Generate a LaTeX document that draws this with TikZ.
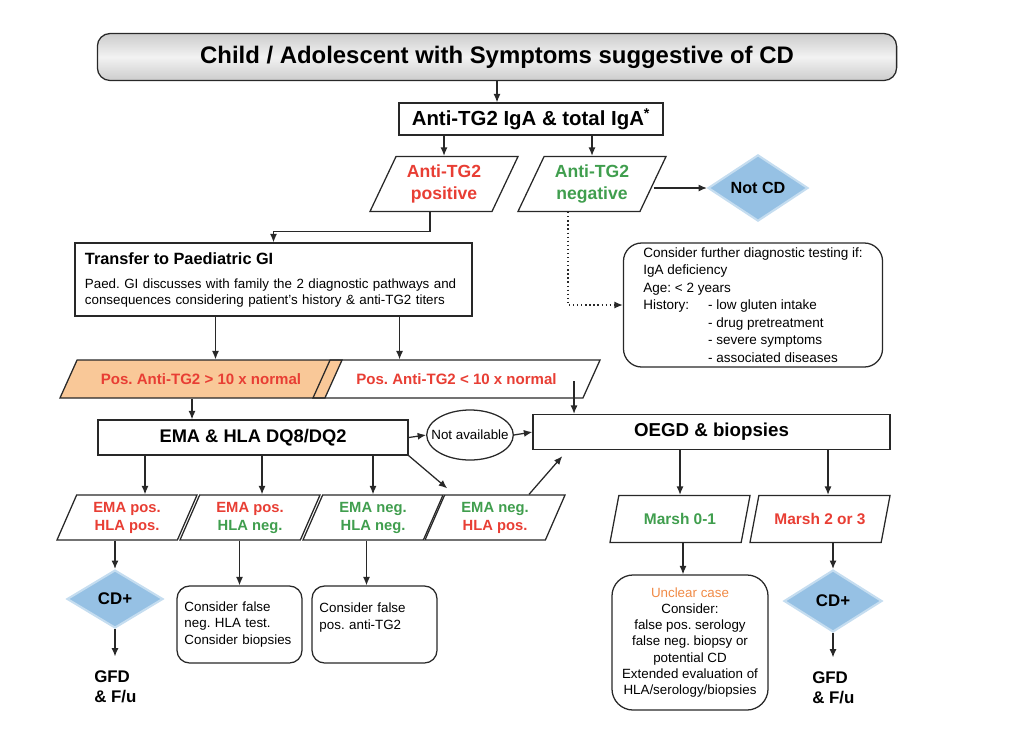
\documentclass[tikz,border=0pt]{standalone}
\usepackage{fontspec}
\setmainfont{Liberation Sans}
\usetikzlibrary{shapes.geometric,arrows.meta,calc}
\frenchspacing

\definecolor{txtred}{RGB}{232,62,52}
\definecolor{txtgreen}{RGB}{64,158,78}
\definecolor{txtorange}{RGB}{240,138,70}
\definecolor{orangefill}{RGB}{249,200,152}
\definecolor{diamblue}{RGB}{150,193,228}
\definecolor{edge}{RGB}{40,40,40}

\begin{document}
\begin{tikzpicture}[x=0.025cm, y=-0.025cm,
    box/.style={draw=edge, line width=0.9pt, inner sep=2pt},
    rbox/.style={box, rounded corners=9pt},
    para/.style={draw=edge, line width=0.9pt, trapezium, trapezium stretches body=true,
      inner xsep=-2pt, inner ysep=1pt, align=center},
    rowp/.style={para, minimum width=3.5cm, minimum height=1.125cm,
      trapezium left angle=60, trapezium right angle=120, font=\bfseries\fontsize{10.5}{12.8}\selectfont},
    titer/.style={para, minimum height=0.95cm, inner xsep=-0.45cm, trapezium left angle=39,
      trapezium right angle=141, text=txtred, font=\bfseries\fontsize{10.7}{12}\selectfont},
    decide/.style={diamond, fill=diamblue, draw=diamblue!55, line width=1.5pt, inner sep=0pt,
      font=\bfseries\fontsize{12}{14}\selectfont},
    arr/.style={-{Latex[length=6pt,width=5pt]}, line width=0.9pt, draw=edge},
  ]
  \useasboundingbox (0,0) rectangle (1024,739);

  % start and first test
  \node[rbox, top color=black!20, bottom color=black!20, middle color=black!5,
    minimum width=19.975cm, minimum height=1.175cm,
    font=\bfseries\fontsize{17}{20}\selectfont] (top) at (497,57)
    {Child / Adolescent with Symptoms suggestive of CD};
  \node[box, minimum width=6.6cm, minimum height=0.8cm,
    font=\bfseries\fontsize{14.5}{17}\selectfont] (iga) at (531,119)
    {Anti-TG2 IgA \& total IgA\textsuperscript{*}};

  % serology result
  \node[para, minimum width=3.7cm, minimum height=1.375cm, trapezium left angle=58,
    trapezium right angle=122, text=txtred, font=\bfseries\fontsize{12.5}{16}\selectfont]
    (pos) at (444,184) {Anti-TG2\\positive};
  \node[para, minimum width=3.7cm, minimum height=1.375cm, trapezium left angle=58,
    trapezium right angle=122, text=txtgreen, font=\bfseries\fontsize{12.5}{16}\selectfont]
    (neg) at (592,184) {Anti-TG2\\negative};
  \node[decide, minimum width=2.5cm, minimum height=1.4cm,
    font=\bfseries\fontsize{11.5}{13}\selectfont] (notcd) at (758,188) {Not CD};

  % paediatric GI and further testing
  \node[box, minimum width=9.925cm, minimum height=1.825cm, inner xsep=0.25cm,
    text width=9.425cm, align=left, font=\fontsize{9.5}{10.7}\selectfont] (transfer) at (273.5,279.5)
    {{\bfseries\fontsize{11.6}{12}\selectfont Transfer to Paediatric GI}\\[7pt]
     Paed. GI discusses with family the 2 diagnostic pathways and\\
     consequences considering patient's history \& anti-TG2 titers};
  \node[rbox, rounded corners=13pt, minimum width=6.475cm, minimum height=3.1cm,
    align=left, font=\fontsize{9.6}{12.4}\selectfont] (consider) at (753,305)
    {Consider further diagnostic testing if:\\
     IgA deficiency\\
     Age: < 2 years\\
     \makebox[46pt][l]{History:}- low gluten intake\\
     \hspace*{46pt}- drug pretreatment\\
     \hspace*{46pt}- severe symptoms\\
     \hspace*{46pt}- associated diseases};

  % titer split
  \node[titer, fill=orangefill, minimum width=7.05cm] (high) at (201,379)
    {Pos. Anti-TG2 > 10 x normal};
  \node[titer, minimum width=7.175cm] (low) at (456.5,379)
    {Pos. Anti-TG2 < 10 x normal};

  % EMA/HLA and endoscopy
  \node[box, minimum width=7.75cm, minimum height=0.875cm,
    font=\bfseries\fontsize{13}{15}\selectfont] (ema) at (253,437.5) {EMA \& HLA DQ8/DQ2};
  \node[ellipse, draw=edge, line width=0.9pt, minimum width=2.1cm, minimum height=1.25cm,
    inner xsep=-0.2cm, inner ysep=0pt, font=\fontsize{9.5}{11}\selectfont] (na) at (470,435)
    {Not available};
  \node[box, minimum width=8.925cm, minimum height=0.875cm,
    font=\bfseries\fontsize{13.3}{15}\selectfont] (oegd) at (711.5,432) {OEGD \& biopsies};

  % EMA/HLA results
  \node[rowp] (p1) at (127,517.5) {\textcolor{txtred}{EMA pos.}\\\textcolor{txtred}{HLA pos.}};
  \node[rowp] (p2) at (250,517.5) {\textcolor{txtred}{EMA pos.}\\\textcolor{txtgreen}{HLA neg.}};
  \node[rowp] (p3) at (373,517.5) {\textcolor{txtgreen}{EMA neg.}\\\textcolor{txtgreen}{HLA neg.}};
  \node[rowp] (p4) at (495,517.5) {\textcolor{txtgreen}{EMA neg.}\\\textcolor{txtred}{HLA pos.}};

  % histology results
  \node[para, minimum width=3.5cm, minimum height=1.175cm, trapezium left angle=58,
    trapezium right angle=122, text=txtgreen, font=\bfseries\fontsize{11}{13}\selectfont]
    (marsh01) at (680,519) {Marsh 0-1};
  \node[para, minimum width=3.5cm, minimum height=1.175cm, trapezium left angle=58,
    trapezium right angle=122, text=txtred, font=\bfseries\fontsize{11}{13}\selectfont]
    (marsh23) at (820,519) {Marsh 2 or 3};

  % outcomes
  \node[decide, minimum width=2.4cm, minimum height=1.45cm] (cd1) at (115,599) {CD+};
  \node[align=left, anchor=west, inner xsep=0pt, inner ysep=0.35cm,
    font=\bfseries\fontsize{12}{14.5}\selectfont] (gfd1) at (94,687) {GFD\\\& F/u};
  \node[rbox, minimum width=3.125cm, minimum height=1.925cm, inner xsep=0.1875cm,
    text width=2.75cm, align=left, font=\fontsize{9.5}{12}\selectfont] (box2) at (239.5,624.5)
    {Consider false\\neg. HLA test.\\Consider biopsies};
  \node[rbox, minimum width=3.125cm, minimum height=1.925cm, inner xsep=0.1875cm,
    text width=2.75cm, align=left, font=\fontsize{9.5}{12}\selectfont] (box3) at (374.5,624.5)
    {Consider false\\pos. anti-TG2\\\mbox{}};
  \node[rbox, rounded corners=15pt, minimum width=3.9cm, minimum height=3.375cm,
    align=center, font=\fontsize{9.5}{11.4}\selectfont] (unclear) at (690,642.5)
    {\textcolor{txtorange}{Unclear case}\\Consider:\\false pos. serology\\false neg. biopsy or\\
     potential CD\\Extended evaluation of\\HLA/serology/biopsies};
  \node[decide, minimum width=2.45cm, minimum height=1.55cm] (cd2) at (833,601) {CD+};
  \node[align=left, anchor=west, inner xsep=0pt, inner ysep=0.35cm,
    font=\bfseries\fontsize{12}{14.5}\selectfont] (gfd2) at (812,688) {GFD\\\& F/u};

  % connectors, upper part
  \draw[arr] (top.south) -- (top.south |- iga.north);
  \draw[arr] (pos.north |- iga.south) -- (pos.north);
  \draw[arr] (neg.north |- iga.south) -- (neg.north);
  \draw[arr] (neg.east |- notcd.west) -- (notcd.west);
  \draw[arr] ([xshift=-0.35cm]pos.south) |- ($(transfer.north)+(0,-11)$) -- (transfer.north);
  \draw[arr, dotted] ([xshift=-0.6cm]neg.south) |- (consider.west);
  \draw[arr] ([xshift=-1.45cm]transfer.south) -- ([xshift=-1.45cm]transfer.south |- high.north);
  \draw[arr] ([xshift=3.15cm]transfer.south) -- ([xshift=3.15cm]transfer.south |- low.north);

  % connectors, middle part
  \coordinate (lowr) at ($(low.top right corner)+(-27,22)$);
  \draw[arr] ([xshift=-0.225cm]high.south) -- ([xshift=-0.225cm]high.south |- ema.north);
  \draw[arr] (lowr) -- (lowr |- oegd.north);
  \draw[arr] (ema.east) -- (na.west);
  \draw[arr] (na.east) -- (oegd.west);
  \foreach \n/\s in {p1/0.45cm, p2/0.3cm, p3/0cm}
    \draw[arr] ([xshift=\s]\n.north |- ema.south) -- ([xshift=\s]\n.north);
  \draw[arr] (ema.south east) -- ($(p4.top left corner)+(3,-6)$);
  \draw[arr] ($(p4.top right corner)+(-37,0)$) -- ($(oegd.south west)+(30,6)$);
  \draw[arr] (marsh01.north |- oegd.south) -- (marsh01.north);
  \draw[arr] ([xshift=0.2cm]marsh23.north |- oegd.south) -- ([xshift=0.2cm]marsh23.north);

  % connectors, lower part
  \draw[arr] (cd1.north |- p1.south) -- (cd1.north);
  \draw[arr] (cd1.south) -- (cd1.south |- gfd1.north);
  \draw[arr] (box2.north |- p2.south) -- (box2.north);
  \draw[arr] ([xshift=-0.2cm]box3.north |- p3.south) -- ([xshift=-0.2cm]box3.north);
  \draw[arr] ([xshift=-0.175cm]unclear.north |- marsh01.south) -- ([xshift=-0.175cm]unclear.north);
  \draw[arr] (cd2.north |- marsh23.south) -- (cd2.north);
  \draw[arr] (cd2.south) -- (cd2.south |- gfd2.north);
\end{tikzpicture}
\end{document}
